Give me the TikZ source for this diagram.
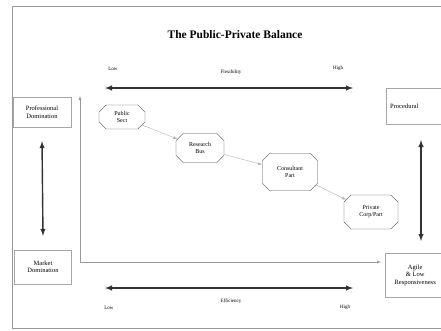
\documentclass[tikz,border=0pt]{standalone}
\usepackage{fontspec}
\setmainfont{Liberation Serif}
\usetikzlibrary{arrows,shapes.misc}

\tikzset{
  sidebox/.style={draw=gray!70,thin,fill=white,align=center,font=\fontsize{6.5}{7.5}\selectfont,inner sep=2pt},
  octbox/.style={chamfered rectangle,chamfered rectangle xsep=4pt,draw=black!70,thin,align=center,
    font=\fontsize{6}{7}\selectfont,minimum width=44pt,minimum height=22pt},
  bigarrow/.style={latex-latex,line width=1.4pt,black!80},
  link/.style={->,>=latex,gray!60,thin},
  axislabel/.style={font=\fontsize{5}{6}\selectfont}
}

\begin{document}
\begin{tikzpicture}[x=1pt,y=-1pt]
\useasboundingbox (0,0) rectangle (441,330);
\clip (0,0) rectangle (441,330);
\fill[white] (0,0) rectangle (441,330);
\draw[gray!80,line width=1pt] (12,6) rectangle (460,328);
\node (title) at (235,35) {\bfseries\fontsize{11.5}{13}\selectfont The Public-Private Balance};
% flexibility axis
\node[axislabel] (flexlow) at (113,69) {Low};
\node[axislabel] (flexname) at (231,72) {Flexibility};
\node[axislabel] (flexhigh) at (338,68) {High};
\coordinate (flexL) at (105,88);
\coordinate (flexR) at (353,88);
\draw[bigarrow] (flexL) -- (flexR);
% side boxes
\node[sidebox,minimum width=58pt,minimum height=30pt] (prof) at (42,112) {Professional\\Domination};
\node[sidebox,minimum width=57pt,minimum height=34pt] (mkt) at (43,267) {Market\\Domination};
\node[sidebox,minimum width=70pt,minimum height=36pt,anchor=west,text width=62pt,align=left] (proc) at (386,106) {Procedural};
\node[sidebox,minimum width=60pt,minimum height=44pt,anchor=west] (agile) at (385,275) {Agile\\\& Low\\Responsiveness};
\draw[bigarrow] ([yshift=-14pt]prof.south) -- ([yshift=14pt]mkt.north);
\coordinate (rightTop) at (421,140);
\coordinate (rightBot) at (421,241);
\draw[bigarrow] (rightTop) -- (rightBot);
% axes
\coordinate (axY) at (80,96);
\coordinate (axX) at (381,262);
\draw[gray!80,thin,latex-latex] (axY) |- (axX);
% octagons
\node[octbox,minimum width=46pt,minimum height=23pt] (pub) at (122,117) {Public\\Sect};
\node[octbox,minimum width=48pt,minimum height=29pt] (res) at (200,148) {Research\\Bus};
\node[octbox,minimum width=55pt,minimum height=37pt] (cons) at (290,172) {Consultant\\Part};
\node[octbox,minimum width=54pt,minimum height=34pt] (priv) at (371,212) {Private\\Corp/Part};
\draw[link] (pub) -- (res);
\draw[link] (res) -- (cons);
\draw[link] (cons) -- (priv);
% efficiency axis
\coordinate (effL) at (105,288);
\coordinate (effR) at (353,288);
\draw[bigarrow] (effL) -- (effR);
\node[axislabel] (efflow) at (109,308) {Low};
\node[axislabel] (effname) at (231,301) {Efficiency};
\node[axislabel] (effhigh) at (345,307) {High};
\end{tikzpicture}
\end{document}
